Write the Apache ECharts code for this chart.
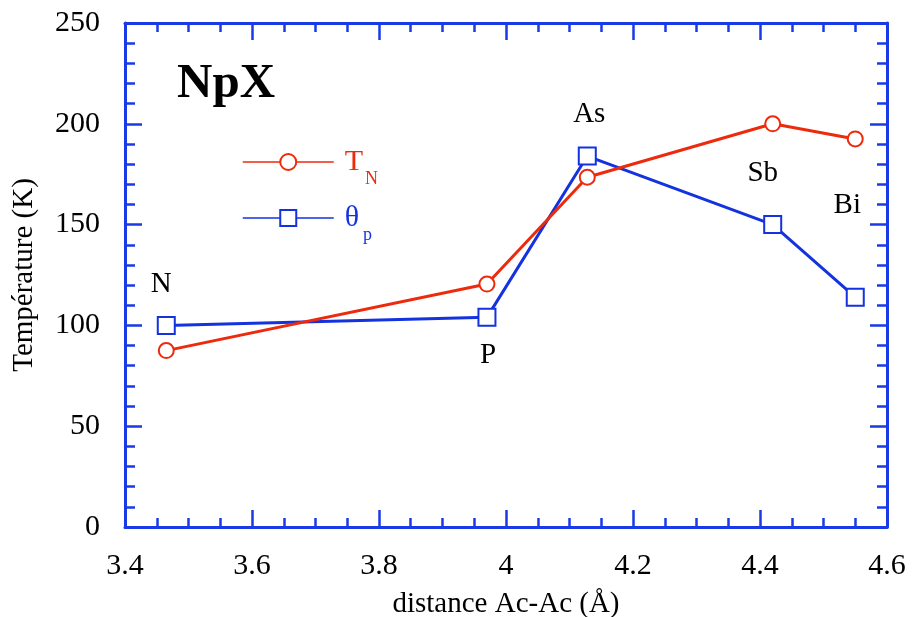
<!DOCTYPE html>
<html>
<head>
<meta charset="utf-8">
<script src="https://cdn.jsdelivr.net/npm/echarts@6/dist/echarts.min.js"></script>
<style>
html,body{margin:0;padding:0;background:#fff;}
#chart{width:913px;height:617px;}
</style>
</head>
<body>
<div id="chart"></div>
<script>
// Data
const compounds = ['N', 'P', 'As', 'Sb', 'Bi'];
const distance = [3.465, 3.970, 4.128, 4.420, 4.550];
const tN = [87.5, 120.5, 173.5, 200, 192.5];
const thetaP = [100, 104, 184, 150, 114];
const xTicks = [3.4, 3.6, 3.8, 4.0, 4.2, 4.4, 4.6];
const yTicks = [0, 50, 100, 150, 200, 250];

// Styles
const RED = '#ee2a0c';
const BLUE = '#1432e0';
const AXIS = '#1a3ae6';
const FONT = '"Liberation Serif", "Times New Roman", serif';
// label offsets for compound names [series index, dx, dy]
const labelPlace = [[1, -5, -41], [1, 1, 38], [1, 2, -42], [0, -10, 50], [0, -8, 66]];

function seriesData(ys, idx) {
  return ys.map((y, i) => {
    const d = { value: [distance[i], y] };
    const lp = labelPlace[i];
    if (lp[0] === idx) {
      d.label = {
        show: true, formatter: compounds[i], position: 'inside',
        offset: [lp[1], lp[2]], color: '#000', fontSize: 29, fontFamily: FONT
      };
    }
    return d;
  });
}

const chart = echarts.init(document.getElementById('chart'), null, { renderer: 'canvas' });

const axisLine = { show: true, onZero: false, lineStyle: { color: AXIS, width: 3 } };
const axisTick = { show: true, inside: true, length: 17, lineStyle: { color: AXIS, width: 2.5 } };

chart.setOption({
  animation: false,
  backgroundColor: '#fff',
  title: {
    text: 'NpX', left: 172, top: 55,
    textStyle: { fontFamily: FONT, fontWeight: 'bold', fontSize: 49, color: '#000' }
  },
  legend: {
    orient: 'vertical', left: 237, top: 142,
    itemWidth: 91, itemHeight: 20, itemGap: 15,
    data: ['TN', 'θp'],
    formatter: function (name) {
      return name === 'TN' ? '{ta|T}{tb|N}' : '{pa|θ}{pb|p}';
    },
    textStyle: {
      fontFamily: FONT,
      rich: {
        ta: { color: RED, fontSize: 30, fontFamily: FONT, padding: [0, 0, 0, 6] },
        tb: { color: RED, fontSize: 18, fontFamily: FONT, padding: [34, 0, 0, 2] },
        pa: { color: BLUE, fontSize: 30, fontFamily: FONT, padding: [0, 0, 0, 6] },
        pb: { color: BLUE, fontSize: 18, fontFamily: FONT, padding: [34, 0, 0, 4] }
      }
    },
    lineStyle: { width: 1.5 },
    itemStyle: { borderWidth: 1.5 }
  },
  grid: { left: 125, right: 26, top: 23, bottom: 90, containLabel: false, outerBoundsMode: 'none' },
  xAxis: [
    {
      type: 'value', min: xTicks[0], max: xTicks[xTicks.length - 1], interval: 0.2,
      position: 'bottom',
      axisLine: axisLine, axisTick: axisTick,
      minorTick: { show: true, splitNumber: 4, length: 9, lineStyle: { color: AXIS, width: 2.5 } },
      splitLine: { show: false },
      axisLabel: {
        color: '#000', fontSize: 30, fontFamily: FONT, margin: 24,
        formatter: v => (Math.round(v * 10) / 10).toString()
      },
      name: 'distance Ac-Ac (Å)', nameLocation: 'middle', nameGap: 63,
      nameTextStyle: { color: '#000', fontSize: 29, fontFamily: FONT }
    },
    {
      type: 'value', min: xTicks[0], max: xTicks[xTicks.length - 1], interval: 0.2,
      position: 'top',
      axisLine: axisLine, axisTick: axisTick,
      minorTick: { show: true, splitNumber: 4, length: 9, lineStyle: { color: AXIS, width: 2.5 } },
      axisLabel: { show: false }, splitLine: { show: false }
    }
  ],
  yAxis: [
    {
      type: 'value', min: yTicks[0], max: yTicks[yTicks.length - 1], interval: 50,
      position: 'left',
      axisLine: axisLine, axisTick: axisTick,
      minorTick: { show: true, splitNumber: 5, length: 10, lineStyle: { color: AXIS, width: 2.5 } },
      splitLine: { show: false },
      axisLabel: { color: '#000', fontSize: 30, fontFamily: FONT, margin: 25 },
      name: 'Température (K)', nameLocation: 'middle', nameGap: 86,
      nameTextStyle: { color: '#000', fontSize: 29, fontFamily: FONT }
    },
    {
      type: 'value', min: yTicks[0], max: yTicks[yTicks.length - 1], interval: 50,
      position: 'right',
      axisLine: axisLine, axisTick: axisTick,
      minorTick: { show: true, splitNumber: 5, length: 10, lineStyle: { color: AXIS, width: 2.5 } },
      splitLine: { show: false }, axisLabel: { show: false }
    }
  ],
  series: [
    {
      name: 'TN', type: 'line', xAxisIndex: 0, yAxisIndex: 0,
      data: seriesData(tN, 0),
      symbol: 'emptyCircle', symbolSize: 15,
      lineStyle: { color: RED, width: 3 },
      itemStyle: { color: RED, borderColor: RED, borderWidth: 2.5 },
      z: 3
    },
    {
      name: 'θp', type: 'line', xAxisIndex: 0, yAxisIndex: 0,
      data: seriesData(thetaP, 1),
      symbol: 'emptyRect', symbolSize: 17,
      lineStyle: { color: BLUE, width: 3 },
      itemStyle: { color: BLUE, borderColor: BLUE, borderWidth: 2.5 },
      z: 2
    }
  ]
});
</script>
</body>
</html>
